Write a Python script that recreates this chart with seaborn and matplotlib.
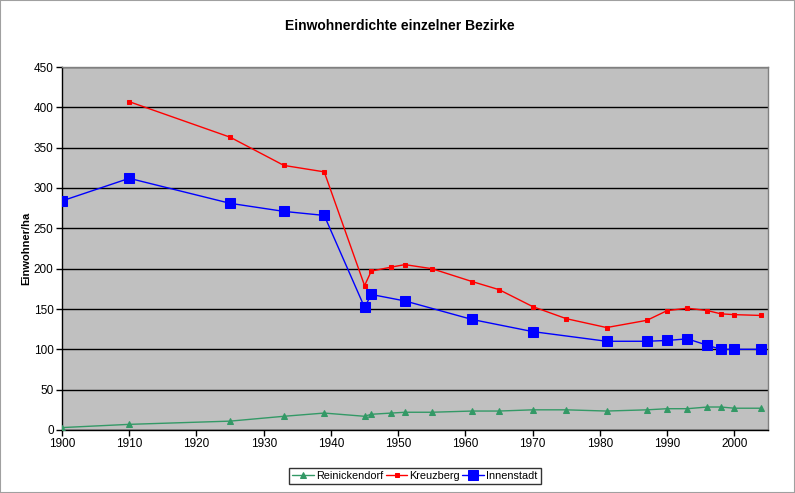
import pandas as pd
import matplotlib
matplotlib.use("Agg")
import matplotlib.pyplot as plt
import seaborn as sns

years_innen = [1900, 1910, 1925, 1933, 1939, 1945, 1946, 1951, 1961, 1970,
               1981, 1987, 1990, 1993, 1996, 1998, 2000, 2004]
innenstadt = [284, 312, 281, 271, 266, 152, 168, 160, 137, 122,
              110, 110, 111, 113, 105, 100, 100, 100]

years_kreuz = [1910, 1925, 1933, 1939, 1945, 1946, 1949, 1951, 1955, 1961, 1965,
               1970, 1975, 1981, 1987, 1990, 1993, 1996, 1998, 2000, 2004]
kreuzberg = [407, 363, 328, 320, 179, 197, 202, 205, 200, 184, 174,
             153, 138, 127, 136, 148, 151, 148, 144, 143, 142]

years_reini = [1900, 1910, 1925, 1933, 1939, 1945, 1946, 1949, 1951, 1955, 1961,
               1965, 1970, 1975, 1981, 1987, 1990, 1993, 1996, 1998, 2000, 2004]
reinickendorf = [3, 7, 11, 17, 21, 17, 19.5, 21, 22, 22, 23.5,
                 23.5, 25, 25, 23.5, 25, 26.4, 26.4, 28.5, 28.5, 27, 27]

sns.set_style("white")
plt.rcParams["font.family"] = ["Liberation Sans", "DejaVu Sans"]
plt.rcParams.update({"text.color": "black", "axes.labelcolor": "black",
                     "xtick.color": "black", "ytick.color": "black"})

fig = plt.figure(figsize=(7.95, 4.93), dpi=100)
fig.patches.append(plt.Rectangle((0, 0), 1, 1, transform=fig.transFigure,
                                 fill=False, edgecolor="#a0a0a0", linewidth=1.5))
ax = fig.add_axes([62 / 795, 63 / 493, 706 / 795, 363 / 493])
ax.set_facecolor("#c0c0c0")

series = [
    ("Reinickendorf", years_reini, reinickendorf, "#339966", "^", 4.5),
    ("Kreuzberg", years_kreuz, kreuzberg, "#ff0000", "s", 3.5),
    ("Innenstadt", years_innen, innenstadt, "#0000ff", "s", 7),
]
for name, xs, ys, col, mk, ms in series:
    df = pd.DataFrame({"Jahr": xs, "Dichte": ys})
    sns.lineplot(data=df, x="Jahr", y="Dichte", ax=ax, sort=False, color=col,
                 marker=mk, markersize=ms, markeredgecolor=col, linewidth=1,
                 label=name, zorder=3)

ax.set_xlim(1900, 2005)
ax.set_ylim(0, 450)
ax.set_xticks(range(1900, 2001, 10))
ax.set_yticks(range(0, 451, 50))
ax.yaxis.grid(True, color="black", linewidth=1)
ax.set_axisbelow(True)
ax.tick_params(axis="both", labelsize=8.5, direction="out", length=4,
               width=1, color="black", left=True, bottom=True, pad=2)
for side in ["left", "bottom"]:
    ax.spines[side].set_color("black")
    ax.spines[side].set_linewidth(1)
for side in ["top", "right"]:
    ax.spines[side].set_color("#808080")
    ax.spines[side].set_linewidth(1)

ax.set_xlabel("")
ax.set_ylabel("Einwohner/ha", fontsize=8, fontweight="bold", labelpad=2)
fig.text(400 / 795, 1 - 26 / 493, "Einwohnerdichte einzelner Bezirke",
         ha="center", va="center", fontsize=10, fontweight="bold",
         family=["Liberation Sans Narrow", "Liberation Sans", "DejaVu Sans"])

leg = ax.legend(loc="center", bbox_to_anchor=(415 / 795, 1 - 476 / 493),
                bbox_transform=fig.transFigure, ncol=3, fontsize=7.8,
                frameon=True, fancybox=False, edgecolor="black",
                handlelength=2.0, handletextpad=0.2, columnspacing=0.2,
                borderpad=0.3)
leg.get_frame().set_linewidth(1)

fig.savefig("out.png", dpi=100)
